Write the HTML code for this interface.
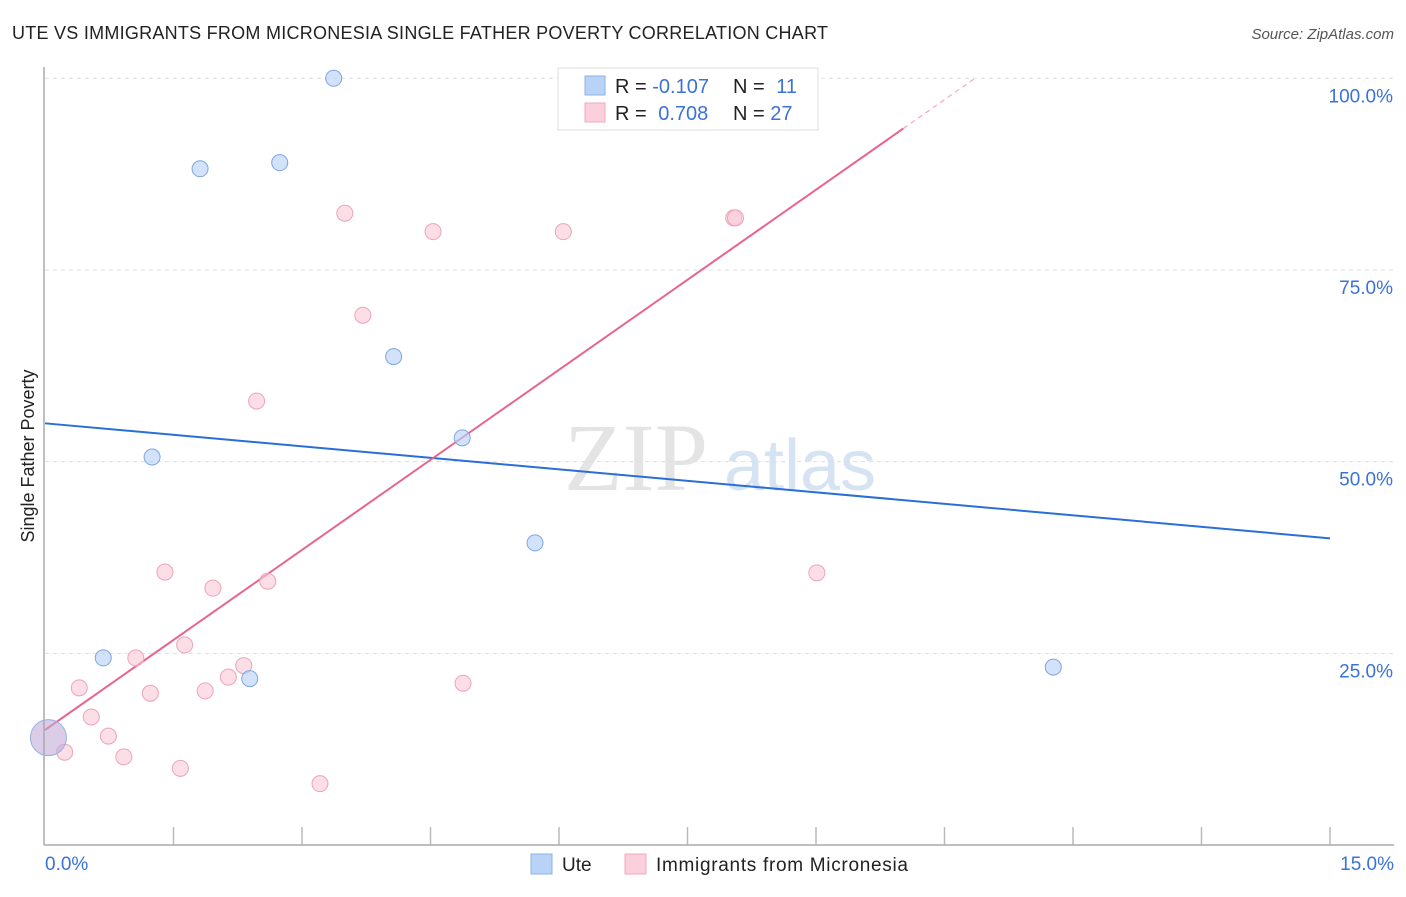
<!DOCTYPE html>
<html><head><meta charset="utf-8"><style>
body{margin:0;background:#fff;width:1406px;height:892px;overflow:hidden;font-family:"Liberation Sans",sans-serif}
</style></head><body>
<svg id="c" width="1406" height="892" xmlns="http://www.w3.org/2000/svg">
<text x="12" y="39" font-size="18" fill="#222" textLength="816">UTE VS IMMIGRANTS FROM MICRONESIA SINGLE FATHER POVERTY CORRELATION CHART</text>
<text x="1394" y="39" font-size="15" fill="#555" font-style="italic" text-anchor="end">Source: ZipAtlas.com</text>
<text x="636" y="490" font-size="96" fill="#e4e4e4" font-family="Liberation Serif" text-anchor="middle">ZIP</text>
<text x="800" y="490" font-size="72" fill="#d6e3f3" text-anchor="middle">atlas</text>
<text transform="translate(34,456) rotate(-90)" font-size="18" fill="#222" text-anchor="middle">Single Father Poverty</text>
<g id="grid"></g><g id="trend"></g><g id="pts"></g>
<line x1="44" y1="67" x2="44" y2="845" stroke="#aaa" stroke-width="1.5"/>
<line x1="44" y1="845" x2="1394" y2="845" stroke="#aaa" stroke-width="1.5"/>
<text x="45" y="870" font-size="19" fill="#3a72d8">0.0%</text>
<text x="1394" y="870" font-size="19" fill="#3a72d8" text-anchor="end">15.0%</text>
<g>
<rect x="558" y="68" width="260" height="62" fill="#fff" stroke="#ddd"/>
<rect x="585" y="76" width="20" height="19" fill="#b9d3f7" stroke="#8fb2e8"/>
<rect x="585" y="103" width="20" height="19" fill="#fbcfdc" stroke="#f0a9c0"/>
<text x="615" y="93" font-size="20" fill="#222">R = <tspan fill="#3a72d8">-0.107</tspan></text>
<text x="733" y="93" font-size="20" fill="#222">N = <tspan fill="#3a72d8" dx="6">11</tspan></text>
<text x="615" y="120" font-size="20" fill="#222">R = <tspan fill="#3a72d8" dx="6">0.708</tspan></text>
<text x="733" y="120" font-size="20" fill="#222">N = <tspan fill="#3a72d8">27</tspan></text>
</g>
<g>
<rect x="531" y="854" width="21" height="20" fill="#b9d3f7" stroke="#8fb2e8"/>
<text x="562" y="871" font-size="19" fill="#222">Ute</text>
<rect x="625" y="854" width="21" height="20" fill="#fbcfdc" stroke="#f0a9c0"/>
<text x="656" y="871" font-size="19" fill="#222" textLength="252">Immigrants from Micronesia</text>
</g>
</svg>
<script>
const yTicks=[25,50,75,100];
const yTickLabels=["25.0%","50.0%","75.0%","100.0%"];
const uteX=[3.37,1.81,2.74,4.07,4.87,1.25,5.72,0.68,2.39,11.77];
const uteY=[100,88.2,89.0,63.7,53.1,50.6,39.4,24.4,21.7,23.2];
const micX=[3.50,4.53,6.05,8.04,8.06,3.71,2.47,1.40,1.96,2.60,9.01,1.63,1.06,0.40,1.23,1.87,2.14,2.32,4.88,0.54,0.74,0.23,0.92,1.58,3.21];
const micY=[82.4,80.0,80.0,81.8,81.8,69.1,57.9,35.6,33.5,34.4,35.5,26.1,24.4,20.5,19.8,20.1,21.9,23.4,21.1,16.7,14.2,12.1,11.5,10.0,8.0];
const bigPoint=[0.04,14.0];
const uteTrend=[55.0,40.0];
const micTrend=[15.0,7.83];
const NS="http://www.w3.org/2000/svg";
const X=v=>45+v/15*1285, Y=v=>845-v*7.667;
function mk(t,a,p){const e=document.createElementNS(NS,t);for(const k in a)e.setAttribute(k,a[k]);p.appendChild(e);return e;}
const g=document.getElementById('grid');
yTicks.forEach((t,i)=>{
 const l=mk('line',{x1:45,x2:1394,y1:Y(t),y2:Y(t),stroke:'#ddd','stroke-dasharray':'4,4'},g);
 
 
 const tx=mk('text',{x:1393,y:Y(t)+24,'font-size':19,fill:'#3a72d8','text-anchor':'end'},g);
 tx.textContent=yTickLabels[i];
 
 
});
for(let i=1;i<=10;i++){
 const l=mk('line',{x1:X(i*1.5),x2:X(i*1.5),y1:827,y2:845,stroke:'#bbb','stroke-width':1.5},g);
 
 
}
const tr=document.getElementById('trend');
let l=mk('line',{x1:X(0),y1:Y(uteTrend[0]),x2:X(15),y2:Y(uteTrend[1]),stroke:'#2a6fd6','stroke-width':2},tr);


const xEnd=10.02, xMax=(100-micTrend[0])/micTrend[1];
l=mk('line',{x1:X(0),y1:Y(micTrend[0]),x2:X(xEnd),y2:Y(micTrend[0]+micTrend[1]*xEnd),stroke:'#e8638f','stroke-width':2},tr);


l=mk('line',{x1:X(xEnd),y1:Y(micTrend[0]+micTrend[1]*xEnd),x2:X(xMax),y2:Y(100),stroke:'#f0a9c0','stroke-width':1.2,'stroke-dasharray':'5,4'},tr);


const p=document.getElementById('pts');
micX.forEach((x,i)=>{
 const c=mk('circle',{cx:X(x),cy:Y(micY[i]),r:8,fill:'rgba(250,200,215,0.6)',stroke:'#eda3bb','stroke-width':1},p);
 
 
});
uteX.forEach((x,i)=>{
 const c=mk('circle',{cx:X(x),cy:Y(uteY[i]),r:8,fill:'rgba(185,211,247,0.65)',stroke:'#7ea6e0','stroke-width':1},p);
 
 
});
let c=mk('circle',{cx:X(bigPoint[0]),cy:Y(bigPoint[1]),r:18,fill:'rgba(195,170,215,0.6)',stroke:'#8fb2e8','stroke-width':1},p);


</script>
</body></html>
